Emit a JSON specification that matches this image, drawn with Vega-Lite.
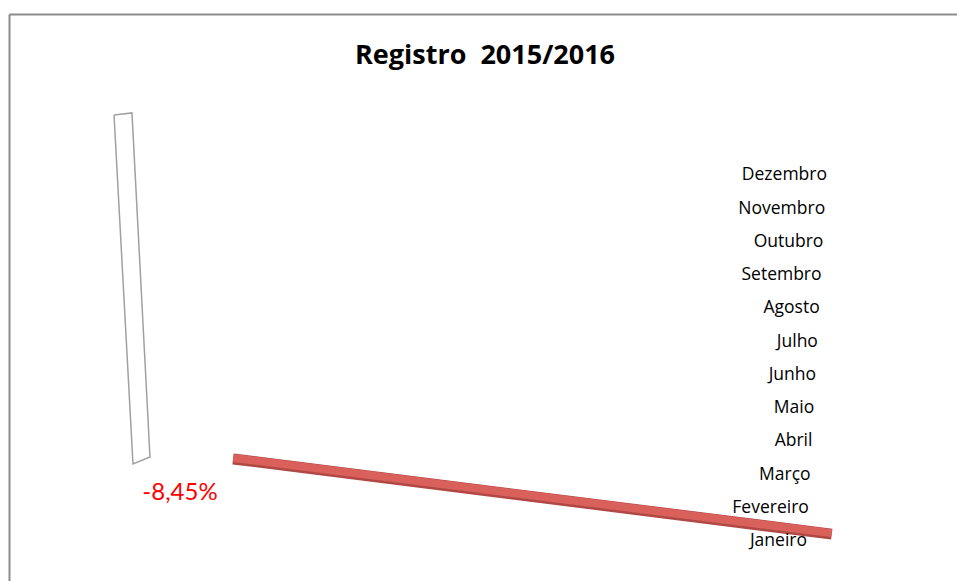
{
  "$schema": "https://vega.github.io/schema/vega-lite/v6.json",
  "width": 948,
  "height": 567,
  "autosize": {"type": "none"},
  "padding": {"left": 9, "top": 14, "right": 0, "bottom": 0},
  "background": "white",
  "config": {"view": {"stroke": null}},
  "title": {
    "text": "Registro \u00a02015/2016",
    "font": "Open Sans",
    "fontSize": 27,
    "fontWeight": "bold",
    "color": "#000000",
    "anchor": "middle",
    "frame": "group",
    "baseline": "alphabetic",
    "offset": -77,
    "dx": 2
  },
  "datasets": {
    "bar": [
      {"pct": -8.69, "pos": 3.47, "i": 0},
      {"pct": 0.15, "pos": 1.21, "i": 1}
    ],
    "frame": [
      {"pct": -10.449, "pos": 13.815, "i": 0},
      {"pct": -10.184, "pos": 13.875, "i": 1},
      {"pct": -9.918, "pos": 3.529, "i": 2},
      {"pct": -10.169, "pos": 3.319, "i": 3},
      {"pct": -10.449, "pos": 13.815, "i": 4}
    ],
    "label": [
      {"pct": -9.475, "pos": 2.46, "text": "-8,45%"}
    ],
    "months": [
      {"month": "Janeiro", "n": 1},
      {"month": "Fevereiro", "n": 2},
      {"month": "Março", "n": 3},
      {"month": "Abril", "n": 4},
      {"month": "Maio", "n": 5},
      {"month": "Junho", "n": 6},
      {"month": "Julho", "n": 7},
      {"month": "Agosto", "n": 8},
      {"month": "Setembro", "n": 9},
      {"month": "Outubro", "n": 10},
      {"month": "Novembro", "n": 11},
      {"month": "Dezembro", "n": 12}
    ]
  },
  "layer": [
    {
      "data": {"name": "bar"},
      "mark": {"type": "line", "color": "#b04844", "strokeWidth": 11, "strokeCap": "butt", "clip": false},
      "encoding": {
        "x": {"field": "pct", "type": "quantitative", "scale": {"domain": [-12, 2], "nice": false, "zero": false},
          "axis": {"orient": "top", "title": null, "labels": false, "ticks": false, "grid": false, "domainColor": "#8c8c8c", "domainWidth": 2}},
        "y": {"field": "pos", "type": "quantitative", "scale": {"domain": [-0.2, 16.85], "nice": false, "zero": false},
          "axis": {"orient": "left", "title": null, "labels": false, "ticks": false, "grid": false, "domainColor": "#8c8c8c", "domainWidth": 2}},
        "order": {"field": "i"}
      }
    },
    {
      "data": {"name": "bar"},
      "mark": {"type": "line", "color": "#d9605b", "strokeWidth": 8, "strokeCap": "butt", "yOffset": -1},
      "encoding": {
        "x": {"field": "pct", "type": "quantitative", "scale": {"domain": [-12, 2], "nice": false, "zero": false}, "axis": null},
        "y": {"field": "pos", "type": "quantitative"},
        "order": {"field": "i"}
      }
    },
    {
      "data": {"name": "frame"},
      "mark": {"type": "line", "color": "#a0a0a0", "strokeWidth": 1.5},
      "encoding": {
        "x": {"field": "pct", "type": "quantitative", "scale": {"domain": [-12, 2], "nice": false, "zero": false}, "axis": null},
        "y": {"field": "pos", "type": "quantitative"},
        "order": {"field": "i"}
      }
    },
    {
      "data": {"name": "label"},
      "mark": {"type": "text", "color": "#ff0000", "font": "Lato", "fontSize": 24, "align": "center", "baseline": "middle"},
      "encoding": {
        "x": {"field": "pct", "type": "quantitative", "scale": {"domain": [-12, 2], "nice": false, "zero": false}, "axis": null},
        "y": {"field": "pos", "type": "quantitative"},
        "text": {"field": "text"}
      }
    },
    {
      "data": {"name": "months"},
      "mark": {"type": "text", "color": "#000000", "font": "Open Sans", "fontSize": 17.5, "align": "right", "baseline": "middle"},
      "encoding": {
        "x": {"field": "n", "type": "quantitative", "scale": {"domain": [-437.9, 83.5], "nice": false, "zero": false}, "axis": null},
        "y": {"field": "n", "type": "quantitative"},
        "text": {"field": "month"}
      }
    }
  ],
  "resolve": {"scale": {"x": "independent"}}
}
